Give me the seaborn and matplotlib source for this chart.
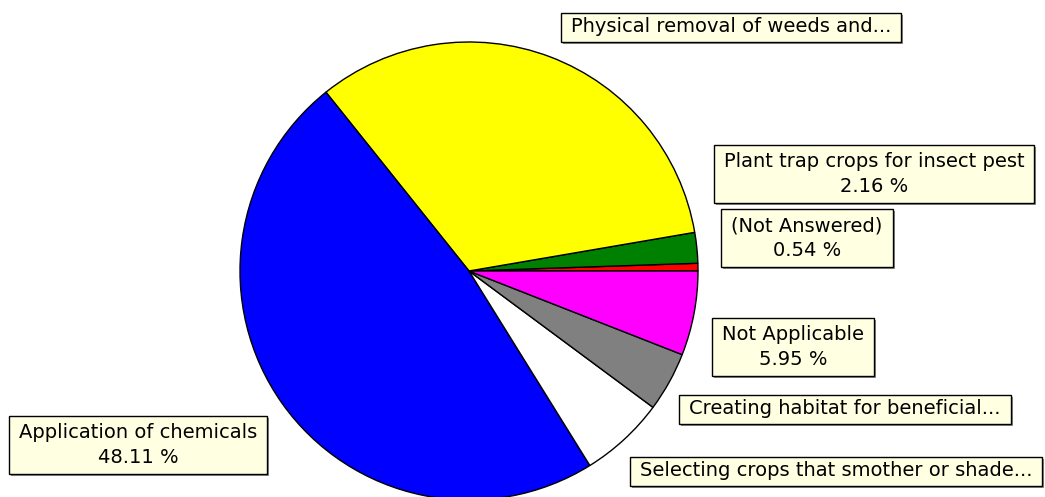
"""Pie chart of pest/weed control practices with boxed callout labels."""

import matplotlib
matplotlib.use("Agg")
import matplotlib.pyplot as plt
from matplotlib.patches import Rectangle
import seaborn as sns

# Slices, counterclockwise from 3 o'clock.
categories = [
    "(Not Answered)",
    "Plant trap crops for insect pest",
    "Physical removal of weeds and...",
    "Application of chemicals",
    "Selecting crops that smother or shade...",
    "Creating habitat for beneficial...",
    "Not Applicable",
]
shares = [0.54, 2.16, 33.04, 48.11, 6.00, 4.20, 5.95]
# only some callouts print the percentage
show_pct = [True, True, False, True, False, False, True]
slice_colors = ["#FF0000", "#008000", "#FFFF00", "#0000FF", "#FFFFFF", "#808080", "#FF00FF"]

# callout box centres, pixels from the top-left corner (layout only)
label_px = [
    (807, 238),
    (874, 174),
    (731, 27),
    (138, 445),
    (836, 471),
    (845, 409),
    (793, 347),
]

W, H = 1045, 497
PIE_CENTER = (469, H - 271)
PIE_RADIUS = 229

sns.set_theme(style="white")
plt.rcParams["font.family"] = ["DejaVu Sans"]

fig = plt.figure(figsize=(W / 100, H / 100), dpi=100)
ax = fig.add_axes([0, 0, 1, 1])

ax.pie(
    shares,
    colors=sns.color_palette(slice_colors),
    startangle=0,
    counterclock=True,
    center=PIE_CENTER,
    radius=PIE_RADIUS,
    wedgeprops={"edgecolor": "black", "linewidth": 1.0},
)
ax.set_xlim(0, W)
ax.set_ylim(0, H)
ax.set_aspect("auto")
ax.set_axis_off()

texts = []
for name, pct, flag, (px, py) in zip(categories, shares, show_pct, label_px):
    label = f"{name}\n{pct:.2f} %" if flag else name
    t = ax.text(px, H - py, label, ha="center", va="center", multialignment="center",
                fontsize=14, linespacing=1.35, color="black", zorder=6)
    texts.append((t, flag))

fig.canvas.draw()
renderer = fig.canvas.get_renderer()
for t, two_lines in texts:
    bb = t.get_window_extent(renderer)
    pad_x = 10
    pad_y = 7 if two_lines else 5
    x0, y0 = bb.x0 - pad_x, bb.y0 - pad_y
    w, h = bb.width + 2 * pad_x, bb.height + 2 * pad_y
    ax.add_patch(Rectangle((x0 + 2, y0 - 2), w, h, facecolor="#8c8c8c",
                           edgecolor="none", zorder=4))
    ax.add_patch(Rectangle((x0, y0), w, h, facecolor="#FFFFE1",
                           edgecolor="black", linewidth=1.0, zorder=5))

fig.savefig("out.png", dpi=100)
plt.close(fig)
